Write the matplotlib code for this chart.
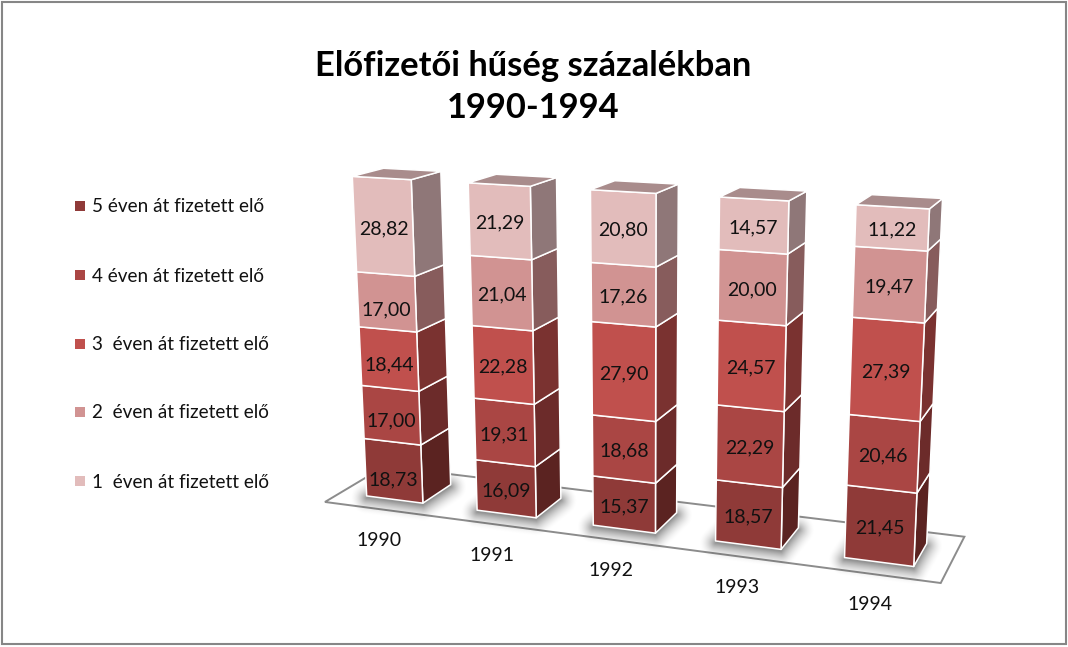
import numpy as np
import matplotlib
matplotlib.use("Agg")
import matplotlib.pyplot as plt
from matplotlib.patches import Polygon, Rectangle
from matplotlib.path import Path

# ---------- data ----------
years = ["1990", "1991", "1992", "1993", "1994"]
series_names = ["5 éven át fizetett elő", "4 éven át fizetett elő", "3  éven át fizetett elő",
                "2  éven át fizetett elő", "1  éven át fizetett elő"]
five_years = [18.73, 16.09, 15.37, 18.57, 21.45]
four_years = [17.00, 19.31, 18.68, 22.29, 20.46]
three_years = [18.44, 22.28, 27.90, 24.57, 27.39]
two_years = [17.00, 21.04, 17.26, 20.00, 19.47]
one_year = [28.82, 21.29, 20.80, 14.57, 11.22]
title_lines = "Előfizetői hűség százalékban\n1990-1994"

# ---------- style ----------
front_colors = ["#8F3A38", "#AA4644", "#C0504D", "#D19392", "#E2BCBB"]
side_colors = ["#5B2321", "#6C2B2A", "#7A3230", "#875C5C", "#8F7778"]
top_color = "#A98C8C"
FONT = "Lato"
BAR_W, BAR_D = 0.515, 0.5
# hand-placed label nudges in the 1990 column, bottom to top (pixels)
first_col_nudge = [7, 4, 4, 6, 0]

# camera calibration: world (x category units, y depth, z percent) -> picture pixels
def bar_world(i):
    x0, x1 = i + .5 - BAR_W / 2, i + .5 + BAR_W / 2
    y0, y1 = .5 - BAR_D / 2, .5 + BAR_D / 2
    return x0, x1, y0, y1

calib = []
pix_tops = [[(352.7, 176.7), (411, 179.3), (440, 172), (383.3, 168.3)],
            [(468.7, 183.3), (530, 186.7), (556, 177.7), (496, 174.3)],
            [(591, 190), (656, 193.3), (677.3, 184.3), (616.7, 180)],
            [(720, 196.7), (788.7, 200.7), (806, 191.7), (740, 187.3)],
            [(857.3, 204.3), (929.3, 208.3), (942, 198.3), (871.7, 194.3)]]
pix_bottoms = [[(366, 496), (422.7, 503.3), (451, 484.3)],
               [(476.7, 510), (536, 517.7), (563, 498)],
               [(592.7, 525.7), (655.7, 532.7), (676.7, 511)],
               [(715.3, 540.7), (780.7, 549), (800, 529)],
               [(844, 557.3), (913.3, 566.3), (926.7, 546)]]
for i in range(5):
    x0, x1, y0, y1 = bar_world(i)
    for w, p in zip([(x0, y0), (x1, y0), (x1, y1), (x0, y1)], pix_tops[i]):
        calib.append((w[0], w[1], 1.0, *p))
    for w, p in zip([(x0, y0), (x1, y0), (x1, y1)], pix_bottoms[i]):
        calib.append((w[0], w[1], 0.0, *p))
for c in [(0, 0, 0, 325.3, 502.3), (5, 0, 0, 940.7, 583.3), (5, 1, 0, 963.7, 536.3), (0, 1, 0, 384.3, 465.9)]:
    calib.append(c)

A = []
for X, Y, Z, u, v in calib:
    P = [X, Y, Z, 1]
    u, v = u / 1000, v / 1000
    A.append(P + [0, 0, 0, 0] + [-u * c for c in P])
    A.append([0, 0, 0, 0] + P + [-v * c for c in P])
CAM = np.linalg.svd(np.array(A))[2][-1].reshape(3, 4)

def proj(x, y, pct):
    h = CAM @ np.array([x, y, pct / 100.0, 1.0])
    return 1000 * h[0] / h[2], 1000 * h[1] / h[2]

# ---------- figure ----------
fig = plt.figure(figsize=(10.68, 6.47), dpi=100, facecolor="white")
ax = fig.add_axes([0, 0, 1, 1])
ax.set_xlim(0, 1068)
ax.set_ylim(647, 0)
ax.axis("off")

ax.add_patch(Rectangle((1.5, 1.5), 1064, 642, fill=False, ec="#868686", lw=1.5))

# title
ax.text(533, 87, title_lines, ha="center", va="center", fontsize=24.85, fontweight="bold",
        family=FONT, color="black", linespacing=1.4)

# legend
legend_y = [206, 275, 344, 412, 481]
for name, col, y in zip(series_names, front_colors, legend_y):
    ax.add_patch(Rectangle((75, y - 5), 10, 10, fc=col, ec="none"))
    ax.text(92, y + 1, name, ha="left", va="center", fontsize=13.6, family=FONT, color="#111111")

# floor
floor = [proj(0, 0, 0), proj(5, 0, 0), proj(5, 1, 0), proj(0, 1, 0)]
ax.add_patch(Polygon(floor, closed=True, fc="white", ec="#8C8C8C", lw=1.4, joinstyle="miter", zorder=1))

# soft shadows on the floor: opacity fades with pixel distance from each bar's footprint
SH_R, SH_A, SH_DY = 17.0, 0.42, 2.0
gx, gy = np.meshgrid(np.arange(300, 1000) + .5, np.arange(440, 600) + .5)
pts_grid = np.column_stack([gx.ravel(), gy.ravel()])
alpha = np.zeros(gx.shape)
for i in range(len(years)):
    x0, x1, y0, y1 = bar_world(i)
    q = np.array([proj(x0, y0, 0), proj(x1, y0, 0), proj(x1, y1, 0), proj(x0, y1, 0)])
    q[:, 1] += SH_DY
    dist = np.full(pts_grid.shape[0], np.inf)
    for a, b in zip(q, np.roll(q, -1, axis=0)):
        t = np.clip(((pts_grid - a) @ (b - a)) / ((b - a) @ (b - a)), 0, 1)
        dist = np.minimum(dist, np.hypot(*(pts_grid - a - t[:, None] * (b - a)).T))
    dist[Path(q).contains_points(pts_grid)] = 0
    alpha = np.maximum(alpha, (SH_A * np.clip(1 - dist / SH_R, 0, 1) ** 1.8).reshape(gx.shape))
rgba = np.zeros(gx.shape + (4,))
rgba[..., 3] = alpha
ax.imshow(rgba, extent=(300, 1000, 600, 440), origin="upper", aspect="auto", zorder=1.5, interpolation="bilinear")
ax.set_xlim(0, 1068)
ax.set_ylim(647, 0)

# bars
stack = np.array([five_years, four_years, three_years, two_years, one_year])
for i, year in enumerate(years):
    x0, x1, y0, y1 = bar_world(i)
    base = 0.0
    for s in range(stack.shape[0]):
        val = stack[s, i]
        top = base + val
        front = [proj(x0, y0, base), proj(x1, y0, base), proj(x1, y0, top), proj(x0, y0, top)]
        side = [proj(x1, y0, base), proj(x1, y1, base), proj(x1, y1, top), proj(x1, y0, top)]
        ax.add_patch(Polygon(side, closed=True, fc=side_colors[s], ec="white", lw=1.1, joinstyle="round", zorder=2))
        ax.add_patch(Polygon(front, closed=True, fc=front_colors[s], ec="white", lw=1.1, joinstyle="round", zorder=2))
        if s == stack.shape[0] - 1:
            lid = [proj(x0, y0, top), proj(x1, y0, top), proj(x1, y1, top), proj(x0, y1, top)]
            ax.add_patch(Polygon(lid, closed=True, fc=top_color, ec="white", lw=1.1, joinstyle="round", zorder=2))
        cx, cy = proj((x0 + x1) / 2, y0, base + val / 2)
        nudge = first_col_nudge[s] if i == 0 else 0
        ax.text(cx, cy + 2 + nudge, f"{val:.2f}".replace(".", ","), ha="center", va="center",
                fontsize=14.0, family=FONT, color="#111111", zorder=3)
        base = top
    fx, fy = proj(i + .5, 0, 0)
    ax.text(fx - 1, fy + 31, year, ha="center", va="center", fontsize=14, family=FONT, color="#111111")

fig.savefig("out.png", dpi=100, facecolor="white")
